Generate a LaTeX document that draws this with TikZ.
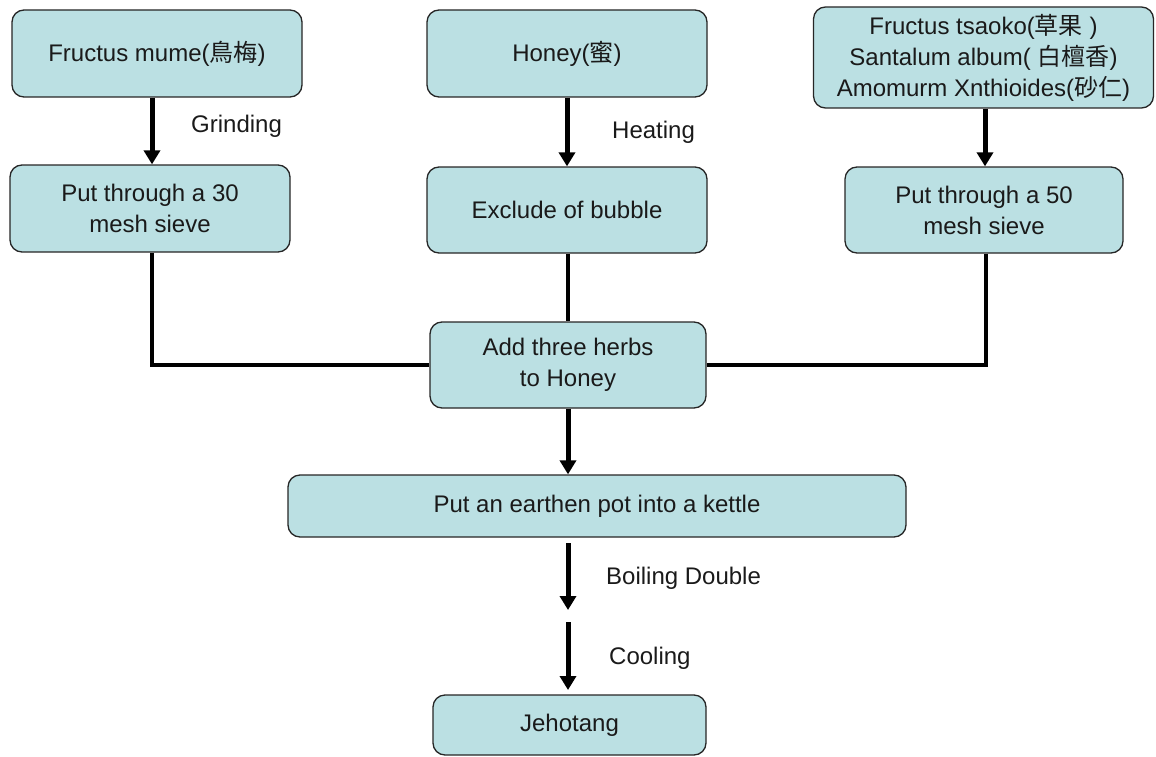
\documentclass[tikz,border=0pt]{standalone}
\usepackage{fontspec}
\setmainfont{Liberation Sans}
\newfontfamily\cjk{Noto Sans CJK KR}
\usetikzlibrary{arrows.meta}
\definecolor{boxfill}{HTML}{BBE0E3}
\definecolor{txt}{HTML}{1A1A1A}
\begin{document}
\begin{tikzpicture}[x=1pt,y=-1pt,
  box/.style={draw=black!85, line width=1.3pt, fill=boxfill, rounded corners=12pt,
    align=center, inner sep=0pt, text=txt, font=\fontsize{24}{31}\selectfont},
  lbl/.style={anchor=west, inner sep=0pt, text=txt, font=\fontsize{24}{29}\selectfont},
  arr/.style={line width=5pt, -{Triangle[length=14pt,width=16pt]}},
  conn/.style={line width=4pt},
  connthin/.style={line width=3.3pt}]
\useasboundingbox (0,0) rectangle (1156,757);
\node[box, minimum width=290pt, minimum height=87pt] (b1) at (157,53.5) {Fructus mume({\cjk 鳥梅})};
\node[box, minimum width=280pt, minimum height=87pt] (b2) at (567,53.5) {Honey({\cjk 蜜})};
\node[box, minimum width=340pt, minimum height=101pt] (b3) at (983.5,57.5) {Fructus tsaoko({\cjk 草果} )\\Santalum album( {\cjk 白檀香})\\Amomurm Xnthioides({\cjk 砂仁})};
\node[box, minimum width=280pt, minimum height=87pt] (b4) at (150,208.5) {Put through a 30\\mesh sieve};
\node[box, minimum width=280pt, minimum height=86pt] (b5) at (567,210) {Exclude of bubble};
\node[box, minimum width=278pt, minimum height=86pt] (b6) at (984,210) {Put through a 50\\mesh sieve};
\node[box, minimum width=276pt, minimum height=86pt] (b7) at (568,365) {Add three herbs\\to Honey};
\node[box, minimum width=618pt, minimum height=62pt] (b8) at (597,506) {Put an earthen pot into a kettle};
\node[box, minimum width=273pt, minimum height=60pt] (b9) at (569.5,725) {Jehotang};

\node[lbl] (lg) at (191,126) {Grinding};
\node[lbl] (lh) at (612,132) {Heating};
\node[lbl] (lb) at (606,578) {Boiling Double};
\node[lbl] (lc) at (609,658) {Cooling};

\coordinate (c1) at (568,543);
\coordinate (c2) at (568,610);
\coordinate (c3) at (568,622);
\coordinate (c4) at (568,690);

\draw[arr] ([xshift=-5pt]b1.south) -- ([xshift=2pt]b4.north);
\draw[arr] (b2.south) -- (b5.north);
\draw[arr] ([xshift=1.5pt]b3.south) -- ([xshift=1pt]b6.north);
\draw[conn] ([xshift=2pt]b4.south) |- (b7.west);
\draw[conn] ([xshift=2pt]b6.south) |- (b7.east);
\draw[connthin] ([xshift=1pt]b5.south) -- (b7.north);
\draw[arr] (b7.south) -- (b7.south |- b8.north);
\draw[arr] (c1) -- (c2);
\draw[arr] (c3) -- (c4);
\end{tikzpicture}
\end{document}
